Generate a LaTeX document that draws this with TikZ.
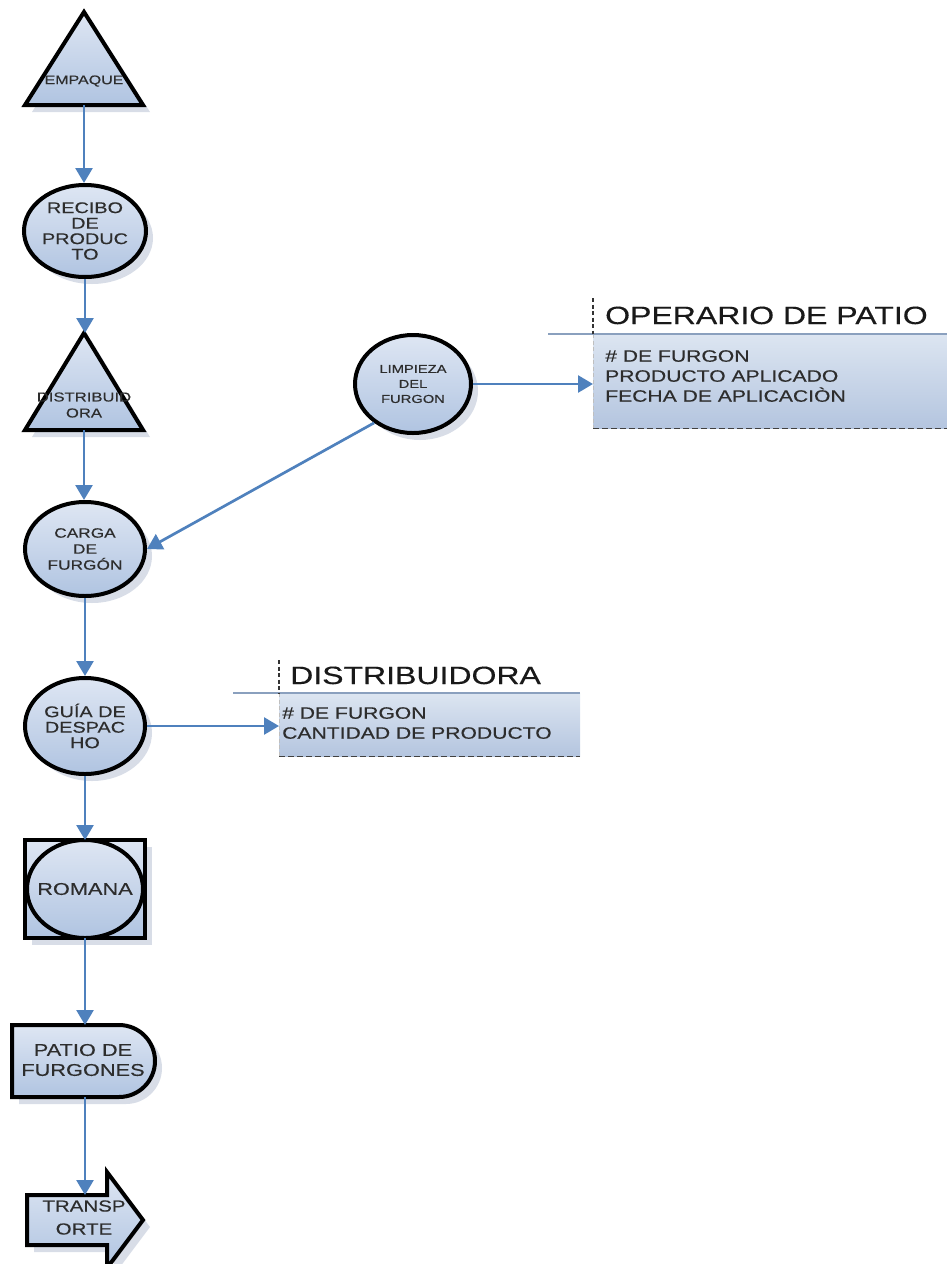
\documentclass[tikz,border=0pt]{standalone}
\usepackage{fontspec}
\setmainfont{Liberation Sans}[FakeStretch=1.28,FakeBold=0.3]
\usetikzlibrary{shapes.geometric,arrows.meta,shadows}

\definecolor{flowblue}{RGB}{79,129,189}
\definecolor{shapetop}{RGB}{222,230,243}
\definecolor{shapebot}{RGB}{176,196,225}
\definecolor{shadowgray}{RGB}{216,221,231}
\definecolor{labelgray}{RGB}{45,45,45}
\definecolor{rulegray}{RGB}{138,160,190}
\definecolor{boxtop}{RGB}{220,229,241}
\definecolor{boxbot}{RGB}{180,197,223}
\definecolor{titlegray}{RGB}{25,25,25}

\begin{document}
\begin{tikzpicture}[x=1pt,y=-1pt,
  shadowed/.style={drop shadow={shadow xshift=7pt,shadow yshift=-7pt,fill=shadowgray,opacity=1}},
  shp/.style={draw=black,line width=4pt,top color=shapetop,bottom color=shapebot,line join=miter},
  circ/.style={ellipse,shp,inner sep=0pt,align=center,text=labelgray},
  holder/.style={rectangle,inner sep=0pt,outer sep=0pt},
  lbl/.style={inner sep=0pt,align=center,text=labelgray},
  flow/.style={draw=flowblue,line width=2.7pt,-{Triangle[length=15pt,width=17pt]}},
  hdrrule/.style={draw=rulegray,line width=2.8pt},
  sepdash/.style={draw=black!80,line width=1.2pt,dash pattern=on 4pt off 2.5pt},
  edgedash/.style={draw=black!25,line width=0.8pt,dash pattern=on 4pt off 2.5pt},
  basedash/.style={draw=black!75,line width=1.4pt,dash pattern=on 6pt off 3pt},
  infobox/.style={rectangle,inner sep=0pt,top color=boxtop,bottom color=boxbot},
  title/.style={anchor=base west,inner sep=0pt,text=titlegray,font=\fontsize{25}{28}\selectfont},
  items/.style={anchor=north west,inner sep=0pt,align=left,text=labelgray,font=\fontsize{16.5}{20}\selectfont}]

\useasboundingbox (0,0) rectangle (947,1264);
\clip (0,0) rectangle (947,1264);

% ---- EMPAQUE (triangle) ----
\node[holder,minimum width=118pt,minimum height=93pt] (empaque) at (84,58.5) {};
\path[shp,shadowed] (empaque.south west) -- (empaque.north) -- (empaque.south east) -- cycle;
\node[lbl,font=\fontsize{12.5}{14}\selectfont] (empaqueT) at (84,81) {EMPAQUE};

% ---- RECIBO DE PRODUCTO ----
\node[circ,shadowed,minimum width=122pt,minimum height=92pt,font=\fontsize{15.5}{15.5}\selectfont]
  (recibo) at (85,231) {RECIBO\\DE\\PRODUC\\TO};

% ---- DISTRIBUIDORA (triangle) ----
\node[holder,minimum width=118pt,minimum height=97pt] (distri) at (84,381.5) {};
\path[shp,shadowed] (distri.south west) -- (distri.north) -- (distri.south east) -- cycle;
\node[lbl,font=\fontsize{13}{16}\selectfont] (distriT) at (84,405) {DISTRIBUID\\ORA};

% ---- CARGA DE FURGON ----
\node[circ,shadowed,minimum width=120pt,minimum height=94pt,font=\fontsize{13.5}{16}\selectfont]
  (carga) at (85,549) {CARGA\\DE\\FURGÓN};

% ---- LIMPIEZA DEL FURGON ----
\node[circ,shadowed,minimum width=116pt,minimum height=98pt,font=\fontsize{11.5}{15}\selectfont]
  (limpieza) at (413,384) {LIMPIEZA\\DEL\\FURGON};

% ---- GUIA DE DESPACHO ----
\node[circ,shadowed,minimum width=120pt,minimum height=96pt,font=\fontsize{15.5}{15.5}\selectfont]
  (guia) at (85,726) {GUÍA DE\\DESPAC\\HO};

% ---- ROMANA (circle in square) ----
\node[holder,shp,shadowed,minimum width=120pt,minimum height=98pt] (romana) at (85,889) {};
\path[shp] (romana.center) ellipse [x radius=58pt, y radius=49pt];
\node[lbl,font=\fontsize{17}{18}\selectfont] (romanaT) at (romana.center) {ROMANA};

% ---- PATIO DE FURGONES (delay shape) ----
\node[holder,minimum width=143pt,minimum height=72pt] (patio) at (83.5,1061) {};
\path[shp,shadowed] (patio.north west) -- ([xshift=-36pt]patio.north east)
  arc[start angle=90,end angle=-90,radius=36pt] -- (patio.south west) -- cycle;
\node[lbl,font=\fontsize{17}{20}\selectfont] (patioT) at (83,1060) {PATIO DE\\FURGONES};

% ---- TRANSPORTE (block arrow) ----
\node[holder,minimum width=80pt,minimum height=50pt] (transporte) at (67,1220) {};
\path[shp,shadowed] (transporte.north west) -- (transporte.north east)
  -- ([yshift=23pt]transporte.north east) -- ([xshift=36pt]transporte.east)
  -- ([yshift=-23pt]transporte.south east) -- (transporte.south east)
  -- (transporte.south west) -- cycle;
\node[lbl,font=\fontsize{16}{23}\selectfont] (transporteT) at (84,1217.5) {TRANSP\\ORTE};

% ---- OPERARIO DE PATIO record ----
\node[infobox,anchor=north west,minimum width=360pt,minimum height=94pt] (opbox) at (593,334) {};
\draw[edgedash] (opbox.north west) -- (opbox.south west);
\draw[hdrrule] ([xshift=-45pt]opbox.north west) -- (opbox.north east);
\draw[sepdash] ([yshift=36pt]opbox.north west) -- (opbox.north west);
\draw[basedash] (opbox.south west) -- (opbox.south east);
\node[title] (optitle) at (605,324) {OPERARIO DE PATIO};
\node[items] (opitems) at (605,350) {\# DE FURGON\\PRODUCTO APLICADO\\FECHA DE APLICACIÒN};

% ---- DISTRIBUIDORA record ----
\node[infobox,anchor=north west,minimum width=301pt,minimum height=63pt] (dsbox) at (279,693) {};
\draw[edgedash] (dsbox.north west) -- (dsbox.south west);
\draw[hdrrule] ([xshift=-46pt]dsbox.north west) -- (dsbox.north east);
\draw[sepdash] ([yshift=33pt]dsbox.north west) -- (dsbox.north west);
\draw[basedash] (dsbox.south west) -- (dsbox.south east);
\node[title] (dstitle) at (290,684) {DISTRIBUIDORA};
\node[items] (dsitems) at (282,707) {\# DE FURGON\\CANTIDAD DE PRODUCTO};

% ---- connectors ----
\draw[flow] (empaque.south) -- (empaque.south |- recibo.north);
\draw[flow] (recibo.south) -- (recibo.south |- distri.north);
\draw[flow] (distri.south) -- (distri.south |- carga.north);
\draw[flow] (limpieza.225) -- (carga.east);
\draw[flow] (limpieza.east) -- (limpieza.east -| opbox.west);
\draw[flow] (carga.south) -- (guia.north);
\draw[flow] (guia.east) -- (guia.east -| dsbox.west);
\draw[flow] (guia.south) -- (romana.north);
\draw[flow] (romana.south) -- (romana.south |- patio.north);
\draw[flow] (romana.south |- patio.south) -- (romana.south |- transporte.north);
\end{tikzpicture}
\end{document}
